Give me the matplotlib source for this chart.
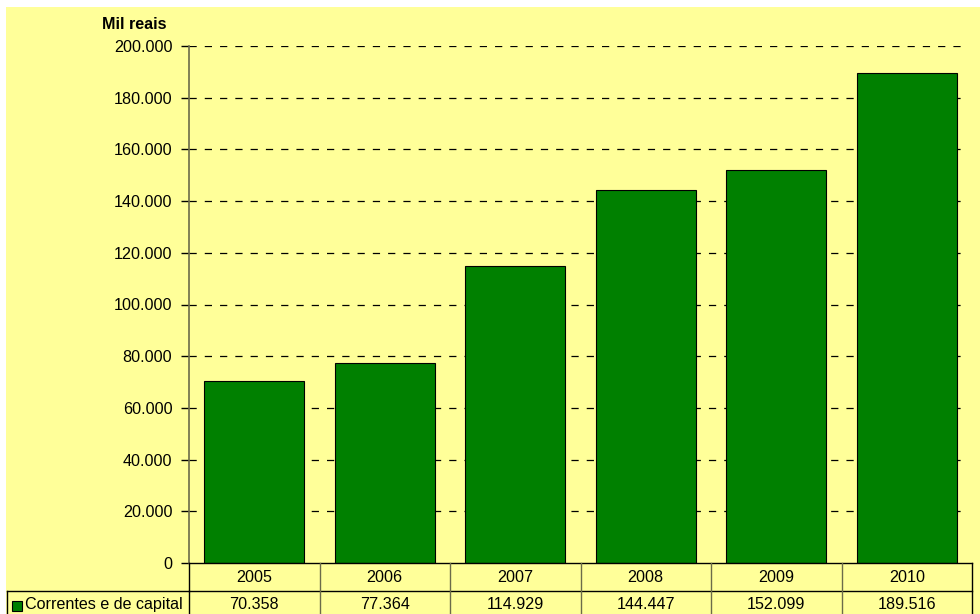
import matplotlib
matplotlib.use("Agg")
import matplotlib.pyplot as plt
from matplotlib.patches import Rectangle
from matplotlib.lines import Line2D
from matplotlib.ticker import MultipleLocator, FuncFormatter

anos = ["2005", "2006", "2007", "2008", "2009", "2010"]
valores = [70358, 77364, 114929, 144447, 152099, 189516]
serie = "Correntes e de capital"
unidade = "Mil reais"

FUNDO = "#FFFF99"
VERDE = "#008000"
W, H = 980, 614
FS = 11.6

plt.rcParams["font.family"] = ["Liberation Sans", "DejaVu Sans"]
plt.rcParams["lines.scale_dashes"] = False

fig = plt.figure(figsize=(W / 100, H / 100), dpi=100)
fig.patch.set_facecolor("white")
# yellow chart area (leaves thin white strip top/left)
fig.patches.append(Rectangle((6 / W, 0), 1, 1 - 7 / H, transform=fig.transFigure,
                             facecolor=FUNDO, edgecolor="none", zorder=-10))

x0, x1 = 189 / W, 972 / W
y0, y1 = 1 - 563 / H, 1 - 46 / H
ax = fig.add_axes([x0, y0, x1 - x0, y1 - y0])
ax.set_facecolor("none")
ax.set_zorder(2)

x = range(len(anos))
ax.bar(x, valores, width=0.77, color=VERDE, edgecolor="black", linewidth=0.8, zorder=3)

ax.set_xlim(-0.5, len(anos) - 0.5)
ax.set_ylim(0, 200000)
ax.yaxis.set_major_locator(MultipleLocator(20000))
ax.yaxis.set_major_formatter(FuncFormatter(lambda v, p: "0" if v == 0 else f"{v:,.0f}".replace(",", ".")))
ax.tick_params(axis="y", direction="out", length=6, width=1, colors="black",
               labelsize=FS, pad=6)
ax.set_xticks([])
for s in ["top", "right", "bottom"]:
    ax.spines[s].set_visible(False)
ax.spines["left"].set_color("#6b6b4a")
ax.spines["left"].set_linewidth(1.2)

# dashed gridlines ending a bit before right border
for v in range(20000, 200001, 20000):
    ax.add_line(Line2D([-0.5, 5.44], [v, v], color="black", linewidth=0.9,
                       dashes=(5.2, 5.8), zorder=1))

ax.text(-23 / 783, 1 + 14 / 517, unidade, transform=ax.transAxes, ha="right",
        va="bottom", fontsize=FS, fontweight="bold")

# data table below the axes
ah = 517.0
r1 = -28 / ah
r2 = -51 / ah
bt = ax.get_xaxis_transform()
linha = dict(color="black", linewidth=1, clip_on=False, transform=bt, zorder=4)
ax.plot([-0.5, 5.5], [0, 0], **linha)
ax.plot([-0.5, 5.5], [r1, r1], **linha)
for i in range(len(anos) + 1):
    c = "#6b6b4a" if 0 < i < len(anos) else "black"
    ax.plot([i - 0.5, i - 0.5], [0, r2], color=c, linewidth=1, clip_on=False,
            transform=bt, zorder=4)
for i, (a, v) in enumerate(zip(anos, valores)):
    ax.text(i, r1 / 2, a, transform=bt, ha="center", va="center", fontsize=FS)
    ax.text(i, (r1 + r2) / 2 - 0.003, f"{v:,}".replace(",", "."), transform=bt,
            ha="center", va="center", fontsize=FS)

# legend cell
fig.add_artist(Line2D([7 / W, x0], [1 - 591 / H, 1 - 591 / H], color="black",
                      linewidth=1, transform=fig.transFigure))
fig.add_artist(Line2D([7 / W, 7 / W], [1 - 591 / H, 0], color="black",
                      linewidth=1, transform=fig.transFigure))
fig.patches.append(Rectangle((12 / W, 1 - 611 / H), 10 / W, 10 / H,
                             transform=fig.transFigure, facecolor=VERDE,
                             edgecolor="black", linewidth=0.8, zorder=5))
fig.text(25 / W, 1 - 604 / H, serie, ha="left", va="center", fontsize=FS)

fig.savefig("out.png", dpi=100, facecolor=fig.get_facecolor())
